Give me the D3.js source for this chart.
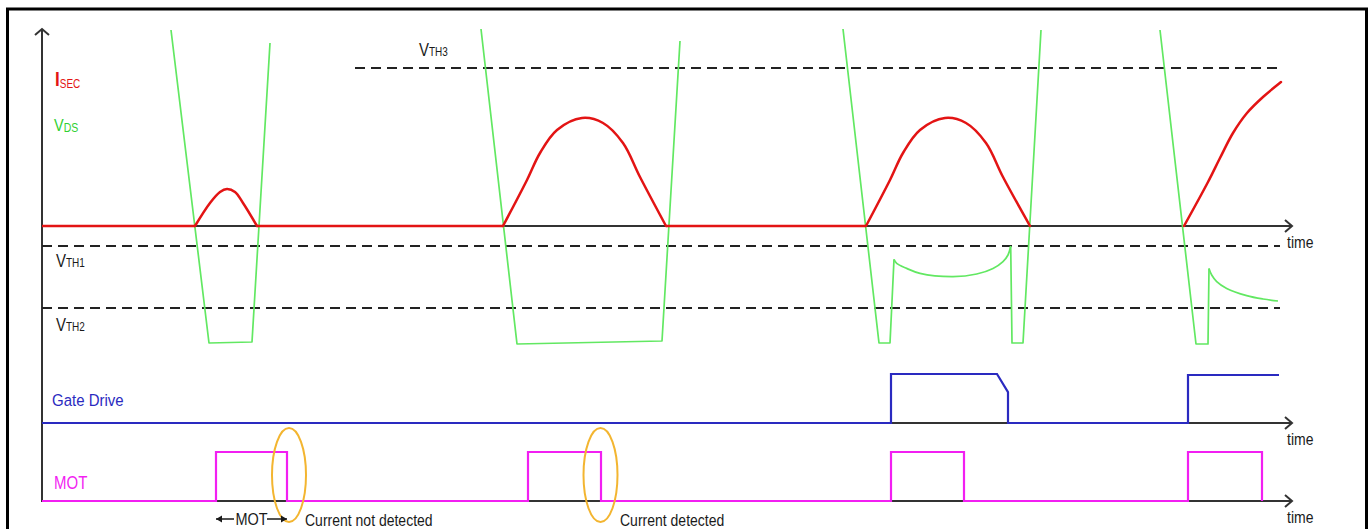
<!DOCTYPE html>
<html><head><meta charset="utf-8">
<script src="https://cdn.jsdelivr.net/npm/d3@7"></script>
<style>
html,body{margin:0;padding:0;background:#fff;}
svg{display:block;}
text{font-family:"Liberation Sans",Arial,sans-serif;}
</style></head>
<body><svg id="chart" width="1370" height="529"></svg>
<script>
// Time axis, arbitrary units
const timeDomain = [0, 1250];

// Secondary current I_SEC: zero-level stretches and conduction pulses [t, I]
const isecFlat = [[0, 153], [215, 461], [624, 824]];
const isecPulses = [
  [[153,0],[168,1.15],[178,1.7],[185,1.85],[193,1.7],[201,1.15],[215,0]],
  [[461,0],[485,2.3],[498,3.65],[515,4.8],[540,5.4],[561,5.15],[581,4.15],[598,2.45],[624,0]],
  [[824,0],[848,2.3],[861,3.65],[878,4.8],[903,5.4],[924,5.15],[944,4.15],[961,2.45],[988,0]],
  [[1142,0],[1166,2.2],[1178,3.4],[1191,4.65],[1205,5.65],[1221,6.45],[1239,7.2]]
];

// Drain-source voltage V_DS: straight edges and the curved plateaus while the switch conducts
const vdsEdges = [
  [[129,9.8],[167,-5.85],[210,-5.8],[228,9.15]],
  [[439,9.85],[475,-5.9],[620,-5.75],[638,9.25]],
  [[801,9.85],[837,-5.85],[848,-5.85],[852,-1.67]],
  [[968.7,-1.0],[970,-5.85],[981,-5.85],[999,9.8]],
  [[1118,9.8],[1154,-5.9],[1166,-5.9],[1167,-2.12]]
];
const vdsArcs = [
  [[852,-1.67],[854.7,-1.87],[864.7,-2.12],[878,-2.37],[911,-2.53],[934.7,-2.4],[951,-2.12],[961,-1.78],[966,-1.45],[968.7,-1.0]],
  [[1167,-2.12],[1169.7,-2.45],[1174.7,-2.78],[1184.7,-3.12],[1204.7,-3.48],[1221,-3.65],[1236,-3.75]]
];

// Threshold levels
const thresholdNames = ["TH1", "TH2", "TH3"];
const thresholdLevels = [-1.0, -4.1, 7.9];
const thresholdStarts = [0, 0, 313];
const thresholdEnd = 1238;

// Gate drive waveform
const gateTimes  = [0, 849, 849, 955, 966, 966, 1146, 1146, 1237];
const gateLevels = [0, 0,   1,   1,   0.63, 0,  0,    0.98, 0.98];

// Minimum on-time pulses [rise, fall]
const motPulses = [[174, 245], [486, 559], [849, 922], [1146, 1220]];

// Current-detection check points
const checkTimes = [247, 558.5];
const checkLevel = 0.53;
const bottomNotes = ["Current not detected", "Current detected"];
const noteTimes = [263, 578];

const svg = d3.select("#chart");

const x = d3.scaleLinear().domain(timeDomain).range([42, 1292]);
const yTop = d3.scaleLinear().domain([-6, 10]).range([346, 26]);
const yGate = d3.scaleLinear().domain([0, 1]).range([423, 374]);
const yMot = d3.scaleLinear().domain([0, 1]).range([501, 452]);

const AXIS = "#333", RED = "#e31414", GREEN = "#62e862", BLUE = "#2a2ac0", MAG = "#f21ff2", ORANGE = "#f3b530", TXT = "#1a1a1a";

// outer frame
svg.append("rect").attr("x", 7.5).attr("y", 9).attr("width", 1359).attr("height", 560)
  .attr("fill", "none").attr("stroke", "#000").attr("stroke-width", 3);

// axes
const x0 = x(0), xEnd = x(timeDomain[1]);
svg.append("line").attr("x1", x0).attr("x2", x0).attr("y1", 29).attr("y2", yMot(0) + 1)
  .attr("stroke", AXIS).attr("stroke-width", 2);
svg.append("path").attr("d", `M${x0 - 7},${35} L${x0},${29} L${x0 + 7},${35}`)
  .attr("fill", "none").attr("stroke", AXIS).attr("stroke-width", 2);

[yTop(0), yGate(0), yMot(0)].forEach(yy => {
  svg.append("line").attr("x1", x0).attr("x2", xEnd).attr("y1", yy).attr("y2", yy)
    .attr("stroke", AXIS).attr("stroke-width", 2);
  svg.append("path").attr("d", `M${xEnd - 7},${yy - 6} L${xEnd},${yy} L${xEnd - 7},${yy + 6}`)
    .attr("fill", "none").attr("stroke", AXIS).attr("stroke-width", 2);
});

// stretched text helper
function label(xp, yp, parts, color, sy) {
  const t = svg.append("text").attr("transform", `translate(${xp},${yp}) scale(1,${sy || 1.2})`)
    .attr("fill", color);
  parts.forEach(p => {
    t.append("tspan").text(p.t).attr("font-size", p.s).attr("font-weight", p.w || "normal")
      .attr("dy", p.dy || 0);
  });
  return t;
}

["time", "time", "time"].forEach((s, i) => {
  label(1287, [248, 445, 523][i], [{t: s, s: 14}], TXT, 1.15);
});

// threshold lines
thresholdLevels.forEach((v, i) => {
  svg.append("line").attr("x1", x(thresholdStarts[i])).attr("x2", x(thresholdEnd))
    .attr("y1", yTop(v)).attr("y2", yTop(v))
    .attr("stroke", "#222").attr("stroke-width", 2).attr("stroke-dasharray", "10,6");
});
label(56, 267, [{t: "V", s: 15}, {t: thresholdNames[0], s: 10}], TXT);
label(56, 331, [{t: "V", s: 15}, {t: thresholdNames[1], s: 10}], TXT);
label(419, 56, [{t: "V", s: 15}, {t: thresholdNames[2], s: 10}], TXT);

// V_DS
const lineTop = d3.line().x(d => x(d[0])).y(d => yTop(d[1]));
const curveTop = d3.line().x(d => x(d[0])).y(d => yTop(d[1])).curve(d3.curveCatmullRom.alpha(0.5));
vdsEdges.forEach(seg => svg.append("path").attr("d", lineTop(seg))
  .attr("fill", "none").attr("stroke", GREEN).attr("stroke-width", 1.7).attr("stroke-linejoin", "round"));
vdsArcs.forEach(seg => svg.append("path").attr("d", curveTop(seg))
  .attr("fill", "none").attr("stroke", GREEN).attr("stroke-width", 1.7));

// I_SEC
isecFlat.forEach(([a, b]) => svg.append("path").attr("d", lineTop([[a, 0], [b, 0]]))
  .attr("fill", "none").attr("stroke", RED).attr("stroke-width", 2.5));
isecPulses.forEach(seg => svg.append("path").attr("d", curveTop(seg))
  .attr("fill", "none").attr("stroke", RED).attr("stroke-width", 2.5).attr("stroke-linecap", "round"));

label(55, 86, [{t: "I", s: 17, w: "bold"}, {t: "SEC", s: 10, dy: 2}], RED);
label(54, 131, [{t: "V", s: 14.5}, {t: "DS", s: 10.5, dy: 1}], "#30d030");

// gate drive
const gateData = gateTimes.map((t, i) => [t, gateLevels[i]]);
svg.append("path").attr("d", d3.line().x(d => x(d[0])).y(d => yGate(d[1]))(gateData))
  .attr("fill", "none").attr("stroke", BLUE).attr("stroke-width", 2.2);
label(52, 406, [{t: "Gate Drive", s: 15}], BLUE, 1.15);

// MOT
const motData = [[0, 0]];
motPulses.forEach(([r, f]) => { motData.push([r, 0], [r, 1], [f, 1], [f, 0]); });
svg.append("path").attr("d", d3.line().x(d => x(d[0])).y(d => yMot(d[1]))(motData))
  .attr("fill", "none").attr("stroke", MAG).attr("stroke-width", 2.2);
label(54, 489, [{t: "MOT", s: 15}], MAG, 1.25);

// detection check marks
checkTimes.forEach(t => {
  svg.append("ellipse").attr("cx", x(t)).attr("cy", yMot(checkLevel)).attr("rx", 17).attr("ry", 47)
    .attr("fill", "none").attr("stroke", ORANGE).attr("stroke-width", 2);
});

// MOT width marker
const my = 519;
const m0 = x(motPulses[0][0]), m1 = x(motPulses[0][1]);
svg.append("path").attr("d", `M${m0},${my} L${m0 + 18},${my} M${m1 - 20},${my} L${m1},${my}`)
  .attr("stroke", TXT).attr("stroke-width", 1.3).attr("fill", "none");
svg.append("path").attr("d", `M${m0},${my} l6,-3.5 l0,7 z M${m1},${my} l-6,-3.5 l0,7 z`)
  .attr("fill", TXT);
label((m0 + m1) / 2, 525, [{t: "MOT", s: 14.5}], TXT, 1.15).attr("text-anchor", "middle");

bottomNotes.forEach((s, i) => {
  label(x(noteTimes[i]), 526, [{t: s, s: 14}], TXT, 1.12);
});
</script>
</body></html>
